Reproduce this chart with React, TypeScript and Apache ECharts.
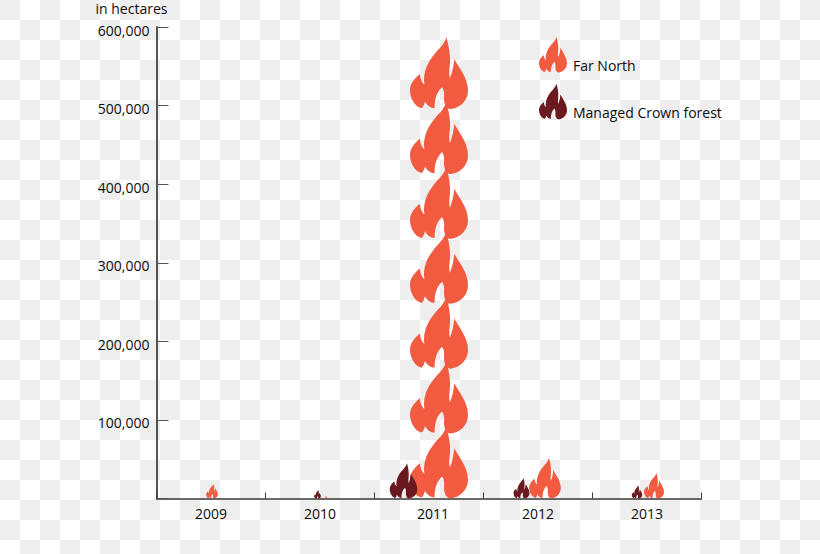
import React, { useEffect, useRef } from "react";
import * as echarts from "echarts";

const years = ["2009", "2010", "2011", "2012", "2013"];
const farNorth = [19000, 3500, 587000, 51500, 32500];
const managedCrown = [0, 11000, 45000, 26000, 17000];
const yTicks = [0, 100000, 200000, 300000, 400000, 500000, 600000];
const tallFlameCount = 7;

const FLAME =
  "path://M125 15C132 45 137 70 135 95C134 110 131 122 135 138C142 120 146 100 148 80C160 105 188 135 188 175C188 205 165 228 135 231C122 228 116 210 118 190C119 180 116 172 112 165C100 175 90 195 90 228C78 228 68 220 62 208C60 216 57 224 52 228C30 222 17 195 18 170C20 150 35 135 47 125C48 140 52 150 60 157C55 120 70 90 90 65C105 48 118 35 125 15Z";

const FONT = '"Open Sans", sans-serif';
const FONT_SIZE = 14;
const TEXT = "#0d0d0d";
const ORANGE = "#F35B41";
const MAROON = "#6A1A1F";
const PX_PER_UNIT = 471.5 / 600000;
const ASPECT = 0.78;
const farNorthShift = [1, 6, 10, 7, 7];
const managedShift = [0, -2.5, -25.5, -16.5, -10];

function flameItems(values: number[], shifts: number[]) {
  return values.map((value, i) => {
    const size = value * PX_PER_UNIT;
    if (size > 100) {
      return {
        value,
        symbolRepeat: tallFlameCount,
        symbolBoundingData: value,
        symbolMargin: 0,
        symbolSize: [58, 72],
        symbolOffset: [shifts[i], 0],
      };
    }
    return {
      value,
      symbolSize: [Math.max(size * ASPECT, 0.01), "100%"],
      symbolOffset: [shifts[i], 0],
    };
  });
}

export default function App() {
  const ref = useRef<HTMLDivElement>(null);
  useEffect(() => {
    const chart = echarts.init(ref.current!, null, { renderer: "svg" });
    const base = { fontFamily: FONT, fontSize: FONT_SIZE, color: TEXT };
    chart.setOption({
      animation: false,
      backgroundColor: "transparent",
      grid: { left: 156.5, top: 27, width: 545, height: 471.5, containLabel: false },
      legend: {
        left: 534,
        top: 32,
        orient: "vertical",
        itemWidth: 28,
        itemHeight: 36,
        itemGap: 11,
        selectedMode: false,
        formatter: (name: string) => `{t|${name}}`,
        textStyle: {
          ...base,
          rich: { t: { ...base, padding: [22, 0, 0, 1] } },
        },
        data: [
          { name: "Far North", icon: FLAME, itemStyle: { color: ORANGE } },
          { name: "Managed Crown forest", icon: FLAME, itemStyle: { color: MAROON } },
        ],
      },
      xAxis: {
        type: "category",
        data: years,
        axisLine: { lineStyle: { color: "#3a3a3a", width: 1.5 } },
        axisTick: { show: true, inside: true, length: 6, alignWithLabel: false, lineStyle: { color: "#3a3a3a", width: 1 } },
        axisLabel: {
          ...base,
          margin: 8,
          formatter: (v: string) => (v === "2011" ? `{w|${v}}` : v),
          rich: { w: { ...base, padding: [0, 0, 0, 8] } },
        },
      },
      yAxis: {
        type: "value",
        min: yTicks[0],
        max: yTicks[yTicks.length - 1],
        interval: yTicks[1] - yTicks[0],
        name: "in hectares",
        nameLocation: "end",
        nameGap: 12,
        nameTextStyle: { ...base, align: "center", padding: [0, 50, 0, 0] },
        axisLine: { show: true, lineStyle: { color: "#555", width: 2 } },
        axisTick: { show: true, inside: true, length: 12, lineStyle: { color: "#555", width: 1 } },
        splitLine: { show: false },
        axisLabel: {
          ...base,
          margin: 7,
          formatter: (v: number) => (v === 0 ? "" : `{n|${v.toLocaleString("en-US")}}`),
          rich: { n: { ...base, padding: [6, 0, 0, 0] } },
        },
      },
      series: [
        {
          name: "Far North",
          type: "pictorialBar",
          symbol: FLAME,
          symbolPosition: "start",
          barWidth: 109,
          barGap: "-100%",
          itemStyle: { color: ORANGE },
          data: flameItems(farNorth, farNorthShift),
        },
        {
          name: "Managed Crown forest",
          type: "pictorialBar",
          symbol: FLAME,
          symbolPosition: "start",
          barWidth: 109,
          barGap: "-100%",
          itemStyle: { color: MAROON },
          data: flameItems(managedCrown, managedShift),
        },
      ],
    });
    return () => chart.dispose();
  }, []);
  return (
    <div
      ref={ref}
      style={{
        position: "absolute",
        left: 0,
        top: 0,
        width: 820,
        height: 554,
        backgroundColor: "#fff",
        backgroundImage: "conic-gradient(#fff 0 25%, #eee 0 50%, #fff 0 75%, #eee 0)",
        backgroundSize: "40px 40px",
      }}
    />
  );
}
